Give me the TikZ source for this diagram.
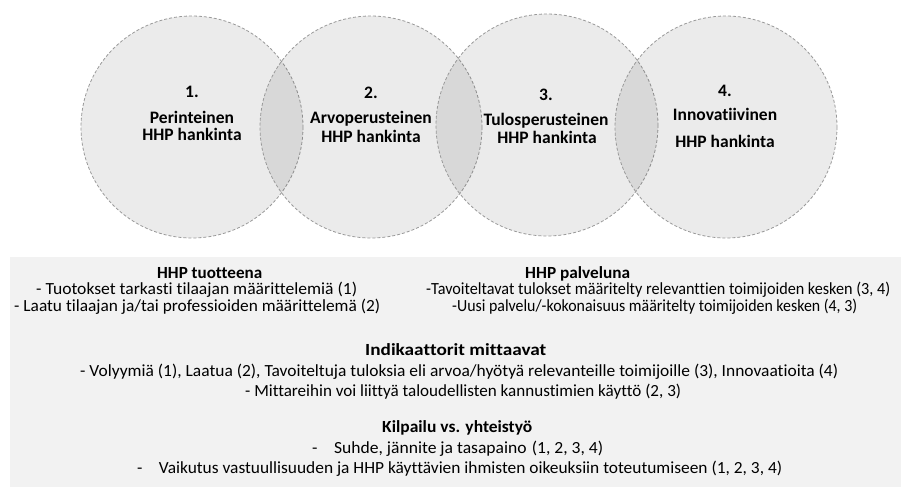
\documentclass[tikz,border=0pt]{standalone}
\usepackage{fontspec}
\usepackage{graphicx}
\setmainfont{Carlito}[RawFeature={-liga;-clig;-dlig}]
\newcommand\fw[2]{\resizebox{#1pt}{\height}{#2}}
\tikzset{
  venn/.style={draw=black!40, line width=0.8pt, dash pattern=on 3pt off 2pt, fill=black, fill opacity=0.08, draw opacity=1},
  clab/.style={anchor=base, inner sep=0pt, font=\fontsize{17.5}{20}\selectfont\bfseries, text=black},
  blab/.style={anchor=base west, inner sep=0pt, font=\fontsize{17}{20}\selectfont, text=black},
  bhead/.style={anchor=base west, inner sep=0pt, font=\fontsize{17}{20}\selectfont\bfseries, text=black}
}
\begin{document}
\begin{tikzpicture}[x=1pt,y=-1pt]
\useasboundingbox (0,0) rectangle (901,487);
\fill[white] (0,0) rectangle (901,487);
% circles
\path[venn] (192,127) circle (111) coordinate (c1);
\path[venn] (371,127) circle (111) coordinate (c2);
\path[venn] (547,125) circle (111) coordinate (c3);
\path[venn] (726,127) circle (111) coordinate (c4);
% circle labels
\node[clab] (n1) at (192,97) {1.};
\node[clab] (p1) at (192,123) {Perinteinen};
\node[clab] (h1) at (192,140) {HHP hankinta};
\node[clab] (n2) at (371,98) {2.};
\node[clab] (p2) at (371,123) {Arvoperusteinen};
\node[clab] (h2) at (371,142) {HHP hankinta};
\node[clab] (n3) at (546,100) {3.};
\node[clab] (p3) at (546,125) {Tulosperusteinen};
\node[clab] (h3) at (547,143) {HHP hankinta};
\node[clab] (n4) at (725,96) {4.};
\node[clab] (p4) at (725,120) {Innovatiivinen};
\node[clab] (h4) at (725,147) {HHP hankinta};
% bottom box
\fill[black!5] (10,257) rectangle (901,487);
\node[bhead] (t0) at (157,278) {\fw{105}{HHP tuotteena}};
\node[blab] (t1) at (36,294) {\fw{321}{- Tuotokset tarkasti tilaajan määrittelemiä (1)}};
\node[blab] (t2) at (14,311) {\fw{366}{- Laatu tilaajan ja/tai professioiden määrittelemä (2)}};
\node[bhead] (s0) at (525,278) {\fw{105}{HHP palveluna}};
\node[blab] (s1) at (426,294) {\fw{464}{-Tavoiteltavat tulokset määritelty relevanttien toimijoiden kesken (3, 4)}};
\node[blab] (s2) at (452,311) {\fw{405}{-Uusi palvelu/-kokonaisuus määritelty toimijoiden kesken (4, 3)}};
\node[bhead] (i0) at (365,355) {\fw{181}{Indikaattorit mittaavat}};
\node[blab] (i1) at (80,376) {\fw{758}{- Volyymiä (1), Laatua (2), Tavoiteltuja tuloksia eli arvoa/hyötyä relevanteille toimijoille (3), Innovaatioita (4)}};
\node[blab] (i2) at (245,396) {\fw{436}{- Mittareihin voi liittyä taloudellisten kannustimien käyttö (2, 3)}};
\node[bhead] (k0) at (382,432) {\fw{150}{Kilpailu vs. yhteistyö}};
\node[blab] (k1) at (312,453) {\fw{291}{-\hspace{16pt}Suhde, jännite ja tasapaino\hspace{5pt}(1, 2, 3, 4)}};
\node[blab] (k2) at (137,473) {\fw{645}{-\hspace{16pt}Vaikutus vastuullisuuden ja HHP käyttävien ihmisten oikeuksiin toteutumiseen (1, 2, 3, 4)}};
\end{tikzpicture}
\end{document}
